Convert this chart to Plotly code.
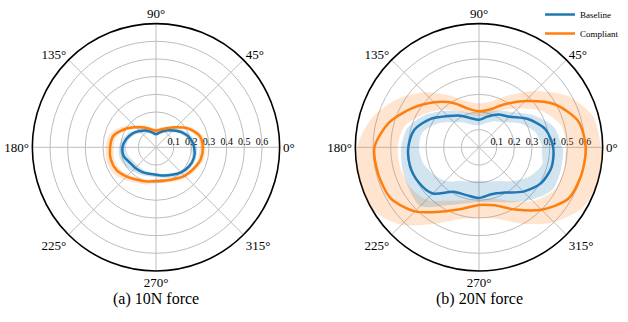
import plotly.graph_objects as go

# ---------------- data (angles in degrees, radius values) ----------------
theta = list(range(0, 360, 15))

# (a) 10N force
base10 = [0.216, 0.2, 0.17, 0.135, 0.11, 0.088, 0.075, 0.088, 0.11, 0.13, 0.155, 0.175,
          0.19, 0.19, 0.172, 0.165, 0.16, 0.155, 0.155, 0.165, 0.18, 0.2, 0.216, 0.223]
base10_lo = [0.2, 0.185, 0.155, 0.12, 0.095, 0.075, 0.065, 0.075, 0.095, 0.115, 0.14, 0.16,
             0.17, 0.165, 0.15, 0.145, 0.145, 0.145, 0.145, 0.155, 0.17, 0.19, 0.205, 0.21]
base10_hi = [0.23, 0.215, 0.185, 0.15, 0.125, 0.1, 0.088, 0.1, 0.125, 0.145, 0.17, 0.195,
             0.21, 0.215, 0.205, 0.19, 0.18, 0.17, 0.17, 0.18, 0.195, 0.215, 0.228, 0.235]
comp10 = [0.265, 0.255, 0.212, 0.16, 0.125, 0.105, 0.094, 0.105, 0.13, 0.16, 0.205, 0.25,
          0.26, 0.265, 0.258, 0.234, 0.212, 0.2, 0.19, 0.195, 0.207, 0.228, 0.245, 0.262]
comp10_lo = [0.25, 0.24, 0.198, 0.147, 0.113, 0.094, 0.084, 0.094, 0.118, 0.147, 0.19, 0.232,
             0.24, 0.245, 0.24, 0.22, 0.2, 0.19, 0.18, 0.185, 0.195, 0.215, 0.232, 0.248]
comp10_hi = [0.28, 0.27, 0.228, 0.175, 0.138, 0.118, 0.108, 0.118, 0.145, 0.178, 0.23, 0.275,
             0.285, 0.29, 0.285, 0.258, 0.232, 0.218, 0.205, 0.208, 0.222, 0.242, 0.26, 0.278]

# (b) 20N force
base20 = [0.42, 0.39, 0.32, 0.245, 0.215, 0.18, 0.156, 0.17, 0.207, 0.25, 0.32, 0.38,
          0.40, 0.405, 0.395, 0.37, 0.29, 0.28, 0.287, 0.275, 0.296, 0.355, 0.406, 0.426]
base20_lo = [0.36, 0.33, 0.27, 0.2, 0.17, 0.14, 0.125, 0.13, 0.16, 0.2, 0.27, 0.33,
             0.34, 0.33, 0.3, 0.27, 0.22, 0.2, 0.19, 0.2, 0.22, 0.27, 0.33, 0.37]
base20_hi = [0.47, 0.44, 0.36, 0.28, 0.24, 0.21, 0.195, 0.2, 0.24, 0.29, 0.36, 0.42,
             0.44, 0.45, 0.46, 0.47, 0.38, 0.33, 0.31, 0.32, 0.36, 0.42, 0.48, 0.48]
comp20 = [0.605, 0.58, 0.49, 0.37, 0.28, 0.22, 0.204, 0.225, 0.29, 0.36, 0.44, 0.53,
          0.592, 0.59, 0.577, 0.513, 0.42, 0.36, 0.326, 0.34, 0.407, 0.5, 0.583, 0.6]
comp20_lo = [0.5, 0.48, 0.41, 0.31, 0.24, 0.19, 0.175, 0.19, 0.24, 0.3, 0.37, 0.44,
             0.46, 0.46, 0.45, 0.42, 0.35, 0.31, 0.3, 0.3, 0.35, 0.43, 0.49, 0.5]
comp20_hi = [0.69, 0.67, 0.58, 0.45, 0.34, 0.27, 0.25, 0.27, 0.34, 0.44, 0.54, 0.63,
             0.69, 0.70, 0.70, 0.62, 0.5, 0.42, 0.4, 0.42, 0.5, 0.6, 0.68, 0.70]

angle_ticks = [0, 45, 90, 135, 180, 225, 270, 315]
angle_labels = ["0°", "45°", "90°", "135°", "180°", "225°", "270°", "315°"]
radial_ticks = [0.1, 0.2, 0.3, 0.4, 0.5, 0.6]
captions = ["(a) 10N force", "(b) 20N force"]

BLUE = "#1f77b4"
ORANGE = "#ff7f0e"
FONT = "Liberation Serif, Times New Roman, Times, DejaVu Serif, serif"


def closed(a):
    return list(a) + [a[0]]


th = closed(theta)
fig = go.Figure()

panels = [
    ("polar", base10, base10_lo, base10_hi, comp10, comp10_lo, comp10_hi, False),
    ("polar2", base20, base20_lo, base20_hi, comp20, comp20_lo, comp20_hi, True),
]

for sub, b, blo, bhi, c, clo, chi, leg in panels:
    for lo, hi, col in [(clo, chi, "rgba(255,127,14,0.2)"), (blo, bhi, "rgba(31,119,180,0.2)")]:
        fig.add_trace(go.Scatterpolar(
            r=closed(hi) + closed(lo)[::-1], theta=th + th[::-1],
            mode="lines", fill="toself", fillcolor=col,
            line=dict(width=0, shape="spline", smoothing=0.8),
            showlegend=False, hoverinfo="skip", subplot=sub))
    fig.add_trace(go.Scatterpolar(
        r=closed(b), theta=th, mode="lines", name="Baseline",
        line=dict(color=BLUE, width=2.5, shape="spline", smoothing=0.8),
        showlegend=leg, subplot=sub))
    fig.add_trace(go.Scatterpolar(
        r=closed(c), theta=th, mode="lines", name="Compliant",
        line=dict(color=ORANGE, width=2.5, shape="spline", smoothing=0.8),
        showlegend=leg, subplot=sub))

W, H = 628, 322
R = 126
centers = [(156, 144), (479, 144)]
caption_y = 299


def polar_layout(cx, cy):
    return dict(
        domain=dict(x=[(cx - R) / W, (cx + R) / W],
                    y=[(H - cy - R) / H, (H - cy + R) / H]),
        bgcolor="white",
        angularaxis=dict(
            rotation=0, direction="counterclockwise",
            tickmode="array", tickvals=angle_ticks, ticktext=angle_labels,
            ticks="", showline=True, linecolor="black", linewidth=1.6,
            gridcolor="#bdbdbd", gridwidth=0.8, layer="below traces",
            tickfont=dict(family=FONT, size=13, color="black")),
        radialaxis=dict(
            range=[0, 0.7], tickmode="array", tickvals=radial_ticks,
            angle=0, side="counterclockwise", showline=False, ticks="",
            gridcolor="#bdbdbd", gridwidth=0.8, layer="below traces",
            tickfont=dict(family=FONT, size=10, color="black")),
    )


annotations = []
for (cx, cy), cap in zip(centers, captions):
    annotations.append(dict(
        text=cap, x=cx / W, y=(H - caption_y) / H, xref="paper", yref="paper",
        xanchor="center", yanchor="middle", showarrow=False,
        font=dict(family=FONT, size=16, color="black")))

fig.update_layout(
    width=W, height=H,
    font=dict(family=FONT, color="black"),
    margin=dict(l=0, r=0, t=0, b=0),
    paper_bgcolor="white", plot_bgcolor="white",
    polar=polar_layout(*centers[0]),
    polar2=polar_layout(*centers[1]),
    annotations=annotations,
    showlegend=True,
    legend=dict(x=540 / W, y=1.02, xanchor="left", yanchor="top",
                font=dict(family=FONT, size=9, color="black"),
                bgcolor="rgba(0,0,0,0)", itemwidth=30, tracegroupgap=0),
)

fig.write_html("out.html", config={"displayModeBar": False},
               post_script="document.body.style.margin='0';document.body.style.padding='0';")
